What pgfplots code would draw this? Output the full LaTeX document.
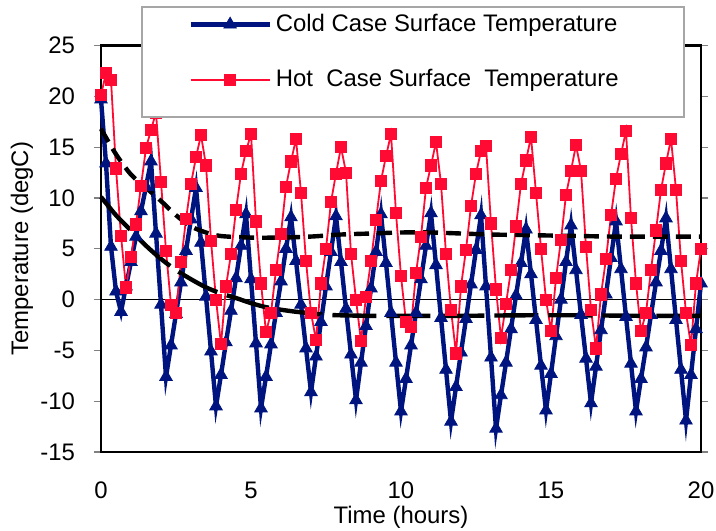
\documentclass[border=0pt]{standalone}
\usepackage{fontspec}
\setmainfont{Liberation Sans}
\usepackage{pgfplots}
\usepackage{pgfplotstable}
\pgfplotsset{compat=1.18}
\definecolor{coldblue}{RGB}{0,20,128}
\definecolor{hotred}{RGB}{255,10,50}
\pgfplotstableread{
t cold hot
0 19.7 20.1
0.1667 13.4 22.3
0.3333 5.2 21.6
0.5 0.8 12.9
0.6667 -1.2 6.3
0.8333 1.3 1.2
1 3.7 4.2
1.1667 6.2 7.4
1.3333 8.7 11.2
1.5 11.1 14.9
1.6667 13.6 16.7
1.8333 6.5 18.4
2 -0.5 11.6
2.1667 -7.6 4.8
2.3333 -4.5 -0.5
2.5 -1.4 -1.3
2.6667 1.7 3.7
2.8333 4.8 7.9
3 7.9 11.4
3.1667 11.0 14.0
3.3333 5.6 16.2
3.5 0.3 13.2
3.6667 -5.1 5.8
3.8333 -10.5 0.0
4 -7.4 -4.4
4.1667 -4.2 1.3
4.3333 -1.1 4.5
4.5 2.1 8.8
4.6667 5.3 12.4
4.8333 8.4 14.6
5 2.0 16.3
5.1667 -4.3 7.7
5.3333 -10.7 1.6
5.5 -7.6 -3.2
5.6667 -4.4 -1.3
5.8333 -1.3 2.9
6 1.8 6.5
6.1667 5.0 11.1
6.3333 8.1 13.6
6.5 3.8 15.8
6.6667 -0.5 10.5
6.8333 -4.8 3.8
7 -9.1 -1.3
7.1667 -5.6 -4.0
7.3333 -2.2 1.6
7.5 1.3 5.0
7.6667 4.7 9.6
7.8333 8.2 12.4
8 3.7 15.0
8.1667 -0.9 12.5
8.3333 -5.4 4.5
8.5 -9.9 0.0
8.6667 -6.2 -4.1
8.8333 -2.6 0.3
9 1.1 3.8
9.1667 4.7 7.8
9.3333 8.4 11.7
9.5 3.6 14.1
9.6667 -1.3 16.3
9.8333 -6.2 8.5
10 -11.0 2.3
10.1667 -7.8 -2.2
10.3333 -4.5 -2.7
10.5 -1.3 2.6
10.6667 2.0 6.2
10.8333 5.3 11.0
11 8.5 13.2
11.1667 3.4 15.5
11.3333 -1.8 11.4
11.5 -6.9 4.5
11.6667 -12.0 -1.0
11.8333 -8.6 -5.3
12 -5.2 1.3
12.1667 -1.9 4.9
12.3333 1.5 9.2
12.5 4.9 12.4
12.6667 8.3 14.6
12.8333 1.3 15.1
13 -5.7 7.5
13.1667 -12.7 1.0
13.3333 -9.4 -3.8
13.5 -6.2 -0.4
13.6667 -2.9 2.9
13.8333 0.4 7.2
14 3.6 11.4
14.1667 6.9 13.7
14.3333 2.5 16.0
14.5 -2.0 10.5
14.6667 -6.5 5.0
14.8333 -10.9 0.0
15 -7.3 -3.1
15.1667 -3.6 2.1
15.3333 0.0 5.9
15.5 3.7 10.3
15.6667 7.3 12.7
15.8333 2.9 15.2
16 -1.5 12.7
16.1667 -5.8 5.2
16.3333 -10.2 -1.0
16.5 -6.6 -4.8
16.6667 -3.0 0.5
16.8333 0.5 4.0
17 4.1 8.3
17.1667 7.7 11.9
17.3333 3.0 14.3
17.5 -1.7 16.6
17.6667 -6.3 8.0
17.8333 -11.0 1.6
18 -7.8 -3.1
18.1667 -4.7 -1.3
18.3333 -1.5 2.9
18.5 1.7 6.8
18.6667 4.8 10.8
18.8333 8.0 13.4
19 3.0 15.8
19.1667 -2.0 10.8
19.3333 -6.9 3.8
19.5 -11.9 -1.3
19.6667 -7.4 -4.5
19.8333 -2.9 1.6
20 1.6 5.0
}\tempdata
\pgfplotsset{
  coldstyle/.style={coldblue, line width=2.2bp, mark=triangle*, mark size=3.6bp, mark options={solid, line width=0.4bp}},
  hotstyle/.style={hotred, line width=0.9bp, mark=square*, mark size=2.8bp, mark options={solid, line width=0.4bp}},
  base/.style={at={(0,0)}, anchor=south west, scale only axis, width=300bp, height=203.25bp,
    xmin=0, xmax=20, ymin=-15, ymax=25},
}
\begin{document}
\begin{tikzpicture}
\begin{axis}[
  base,
  xtick={0,5,10,15,20}, ytick={-15,-10,-5,0,5,10,15,20,25},
  clip=false,
  axis line style={black, line width=1.1bp},
  tick align=outside,
  major tick length=3.5bp,
  xtick style={draw=none},
  ytick style={gray, line width=0.6bp},
  extra y ticks={0}, extra y tick labels={},
  extra y tick style={grid=major, major grid style={black, line width=0.7bp}, major tick length=0pt},
  /pgf/number format/assume math mode=true,
  tick label style={font=\fontsize{12}{14}\selectfont, black},
  yticklabel style={xshift=-6bp},
  xticklabel style={yshift=-8bp},
  xlabel={Time (hours)},
  ylabel={Temperature (degC)},
  label style={font=\fontsize{12}{14}\selectfont},
  xlabel style={at={(axis description cs:0.5,0)}, anchor=north, yshift=-23.5bp},
  ylabel style={at={(axis description cs:-0.1317,0.5)}, anchor=center},
]
\addplot[coldstyle] table[x=t, y=cold] {\tempdata};
\addplot[hotstyle] table[x=t, y=hot] {\tempdata};
\addplot[black, line width=2.2bp, dash pattern=on 7.5bp off 4bp, smooth] coordinates {
(0,16.8) (0.5,14.3) (1,12.3) (1.5,11.0) (2,9.7) (2.5,8.3) (3,7.2) (3.5,6.6) (4,6.25) (5,6.1) (6,6.1) (7,6.2) (8,6.4) (9,6.5) (10,6.6) (11,6.6) (12,6.5) (13,6.4) (14,6.35) (15,6.3) (16,6.25) (17,6.2) (18,6.2) (19,6.2) (20,6.2)};
\addplot[black, line width=2.2bp, dash pattern=on 22bp off 5bp, smooth] coordinates {
(0,10.1) (0.5,8.3) (1,6.8) (1.5,5.3) (2,4.0) (2.5,2.9) (3,2.0) (3.5,1.2) (4,0.6) (4.5,0.15) (5,-0.35) (5.5,-0.75) (6,-1.0) (6.5,-1.2) (7,-1.35) (7.5,-1.5) (8,-1.55) (9,-1.6) (10,-1.6) (12,-1.6) (14,-1.55) (16,-1.55) (18,-1.6) (20,-1.6)};
\end{axis}
% legend box (covers the plot frame and data beneath it)
\draw[gray!70, line width=0.6bp, fill=white] (20.5bp,222.5bp) rectangle (291.5bp,167.5bp);
\begin{axis}[
  base, hide axis,
  legend style={draw=none, fill=none, inner sep=0pt, at={(axis cs:2.9,28.5)}, anchor=north west,
    row sep=13.5bp, column sep=0bp, font=\fontsize{12}{14}\selectfont},
  legend cell align=left,
  legend image code/.code={\draw[mark repeat=2,mark phase=2] plot coordinates {(0bp,0bp) (19.75bp,0bp) (39.5bp,0bp)};},
]
\addlegendimage{coldstyle}
\addlegendentry{Cold Case Surface Temperature}
\addlegendimage{hotstyle}
\addlegendentry{Hot~~Case Surface~~Temperature}
\end{axis}
\pgfresetboundingbox
\path (-50.5bp,-39.5bp) rectangle (307.5bp,226bp);
\end{tikzpicture}
\end{document}
